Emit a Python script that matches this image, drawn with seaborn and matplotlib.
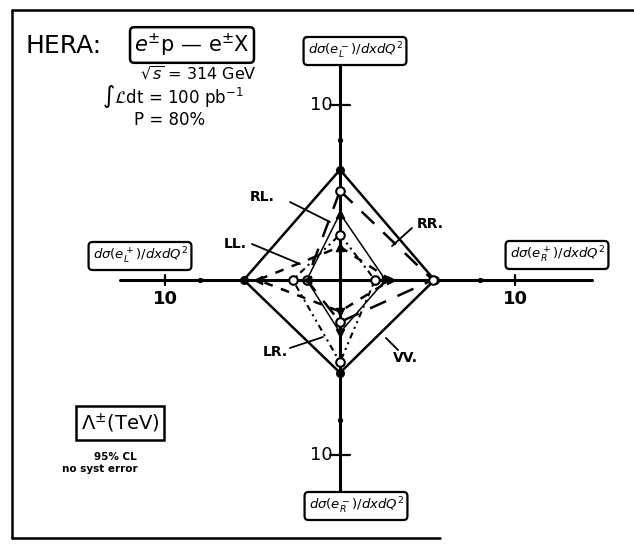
"""
HERA contact-interaction limits: four-axis diagram of Lambda (TeV).
"""

import matplotlib
matplotlib.use("Agg")
import pandas as pd
import matplotlib.pyplot as plt
import seaborn as sns

# ── Data: 95% CL limits on Lambda (TeV), order = top, right, bottom, left ──
axis_names = ["top", "right", "bottom", "left"]
axis_labels = [r"$d\sigma(e^-_L)/dxdQ^2$", r"$d\sigma(e^+_R)/dxdQ^2$",
               r"$d\sigma(e^-_R)/dxdQ^2$", r"$d\sigma(e^+_L)/dxdQ^2$"]
axis_len = [12.4, 14.4, 12.4, 12.6]
tick_val = 10
couplings = ["VV", "RR", "LL", "RL", "LR"]
lam_vv = [6.3, 5.4, 5.3, 5.5]
lam_rr = [5.1, 5.3, 2.4, 1.9]
lam_ll = [1.9, 2.9, 1.8, 4.7]
lam_rl = [3.8, 2.6, 3.0, 1.9]
lam_lr = [2.6, 2.0, 4.7, 2.7]

# ── Geometry (pixels of the scanned figure) ──────────────────────────────────
W, H = 634, 551
CX, CY = 340, 280
SCALE = 17.5          # px per TeV


def P(px, py):
    return (px - CX) / SCALE, (CY - py) / SCALE


def corners(vals):
    t, r, b, l = vals
    return pd.DataFrame({"x": [0, r, 0, -l, 0], "y": [t, 0, -b, 0, t]})


sns.set_theme(style="white")
plt.rcParams["font.family"] = ["DejaVu Sans"]
plt.rcParams["mathtext.fontset"] = "dejavusans"
plt.rcParams["text.color"] = "black"

fig = plt.figure(figsize=(W / 100, H / 100), dpi=100)
ax = fig.add_axes([0, 0, 1, 1])
ax.set_xlim(-CX / SCALE, (W - CX) / SCALE)
ax.set_ylim(-(H - CY) / SCALE, CY / SCALE)
ax.set_aspect("equal", adjustable="box")
ax.axis("off")

# ── Frame ─────────────────────────────────────────────────────────────────────
x0, y0 = P(12, 10)
x1, y1 = P(634, 538)
x2, _ = P(440, 538)
ax.plot([x0, x0], [y0, y1], color="black", lw=1.8)
ax.plot([x0, x1], [y0, y0], color="black", lw=1.8)
ax.plot([x0, x2], [y1, y1], color="black", lw=1.8)

# ── Axes with the 10 TeV tick ───────────────────────────────────────────────
dirs = {"top": (0, 1), "right": (1, 0), "bottom": (0, -1), "left": (-1, 0)}
for name, L in zip(axis_names, axis_len):
    dx, dy = dirs[name]
    ax.plot([0, dx * L], [0, dy * L], color="black", lw=2.2, zorder=2)
    tx, ty = dx * tick_val, dy * tick_val
    ax.plot([tx - 0.55 * abs(dy), tx + 0.55 * abs(dy)],
            [ty - 0.3 * abs(dx), ty + 0.3 * abs(dx)], color="black", lw=1.6)
    ax.scatter([dx * 8], [dy * 8], s=8, color="black", zorder=3)

ax.text(-0.45, tick_val, "10", ha="right", va="center", fontsize=13)
ax.text(-0.45, -tick_val, "10", ha="right", va="center", fontsize=13)
ax.text(-tick_val, -0.6, "10", ha="center", va="top", fontsize=13,
        fontweight="bold")
ax.text(tick_val, -0.6, "10", ha="center", va="top", fontsize=13,
        fontweight="bold")

# axis label boxes
box = dict(boxstyle="round,pad=0.3", fc="white", ec="black", lw=1.6)
label_pos = [(355, 51), (557, 255), (356, 506), (140, 256)]
for lab, (px, py) in zip(axis_labels, label_pos):
    ax.text(*P(px, py), lab, ha="center", va="center", fontsize=9.5,
            bbox=box, zorder=5)

# ── Coupling polygons ─────────────────────────────────────────────────────────
styles = {
    "VV": dict(ls="-", lw=1.8),
    "RR": dict(ls=(0, (7, 5)), lw=1.8),
    "LL": dict(ls=(0, (3.5, 3.5)), lw=1.8),
    "RL": dict(ls="-", lw=1.1),
    "LR": dict(ls=(0, (3, 2, 1, 2, 1, 2)), lw=1.5),
}
data = {"VV": lam_vv, "RR": lam_rr, "LL": lam_ll, "RL": lam_rl, "LR": lam_lr}
for c in couplings:
    df = corners(data[c])
    sns.lineplot(data=df, x="x", y="y", sort=False, estimator=None,
                 color="black", ax=ax, zorder=3, **styles[c])

# markers
tri = {"top": "^", "right": ">", "bottom": "v", "left": "<"}
for c in couplings:
    df = corners(data[c]).iloc[:4]
    for (x, y), name in zip(df.values, axis_names):
        if c == "VV":
            ax.scatter([x], [y], s=30, marker="o", color="black", zorder=4)
        elif c in ("RR", "LR"):
            ax.scatter([x], [y], s=38, marker="o", facecolor="white",
                       edgecolor="black", lw=1.5, zorder=4)
        else:
            ax.scatter([x], [y], s=34, marker=tri[name], color="black",
                       zorder=4)

# coupling labels with pointer lines
pointers = {
    "RL": ((262, 197), (290, 202), (330, 222)),
    "RR": ((430, 224), (412, 228), (392, 246)),
    "LL": ((235, 244), (252, 244), (300, 264)),
    "LR": ((275, 352), (290, 348), (323, 337)),
    "VV": ((405, 358), (398, 350), (386, 338)),
}
for c, (tp, a, b) in pointers.items():
    ax.text(*P(*tp), c + ".", ha="center", va="center", fontsize=10,
            fontweight="bold")
    (ax_, ay_), (bx_, by_) = P(*a), P(*b)
    ax.plot([ax_, bx_], [ay_, by_], color="black", lw=1.3)

# ── Header text ───────────────────────────────────────────────────────────────
ax.text(*P(25, 46), "HERA:", ha="left", va="center", fontsize=18)
ax.text(*P(192, 45), r"$e^{\pm}$p — e$^{\pm}$X", ha="center", va="center",
        fontsize=15, bbox=dict(boxstyle="round,pad=0.2", fc="white",
                               ec="black", lw=1.8))
ax.text(*P(198, 74), r"$\sqrt{s}$ = 314 GeV", ha="center", va="center",
        fontsize=11.5)
ax.text(*P(173, 96), r"$\int\mathcal{L}$dt = 100 pb$^{-1}$", ha="center",
        va="center", fontsize=12)
ax.text(*P(170, 120), "P = 80%", ha="center", va="center", fontsize=12)

# ── Lambda legend box ─────────────────────────────────────────────────────────
ax.text(*P(120, 423), r"$\Lambda^{\pm}$(TeV)", ha="center", va="center",
        fontsize=14, bbox=dict(boxstyle="square,pad=0.25", fc="white",
                               ec="black", lw=1.8))
ax.text(*P(115, 457), "95% CL", ha="center", va="center", fontsize=7.5,
        fontweight="bold")
ax.text(*P(100, 469), "no syst error", ha="center", va="center", fontsize=7.5,
        fontweight="bold")

fig.savefig("out.png", dpi=100)
